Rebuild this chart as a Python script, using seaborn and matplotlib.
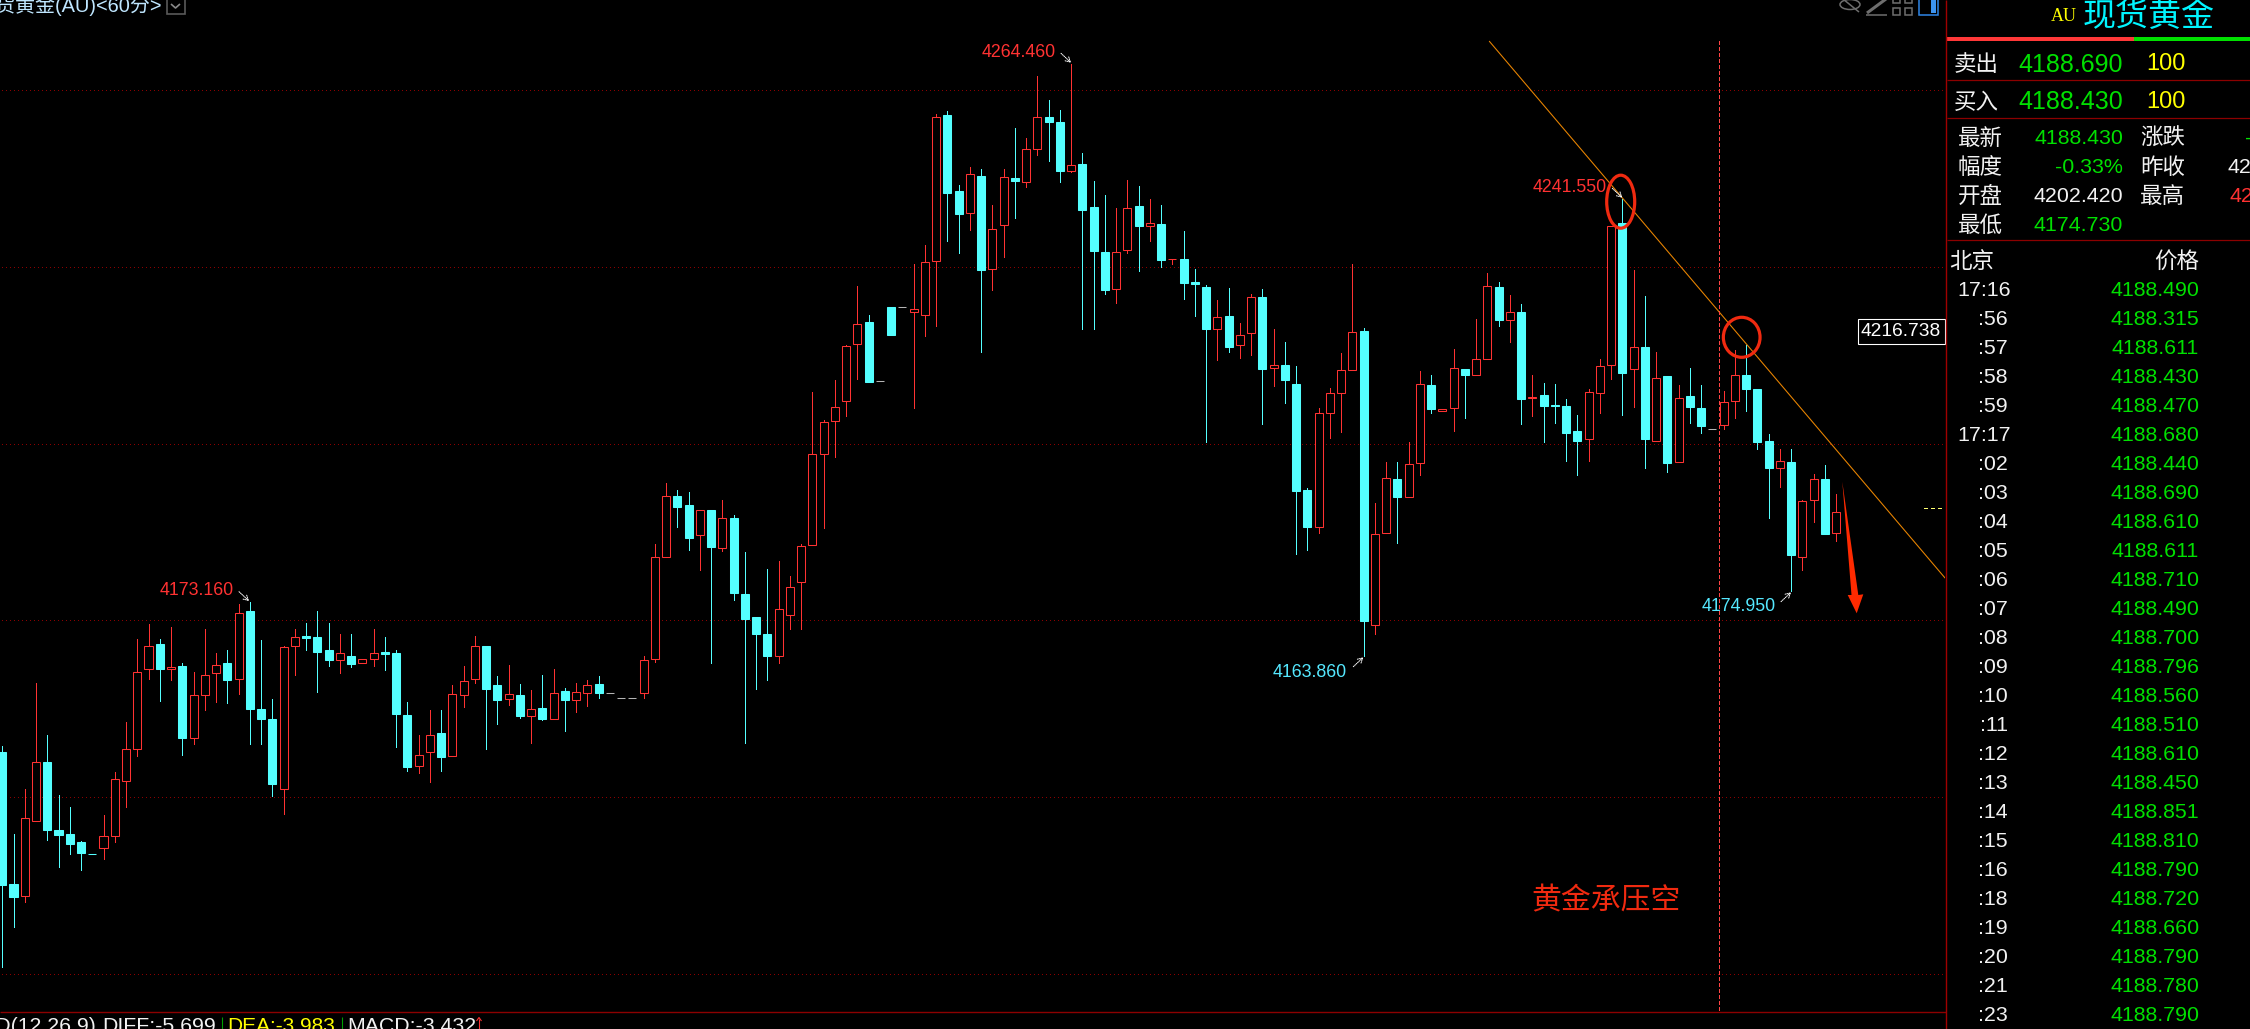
import numpy as np
import pandas as pd
import matplotlib
matplotlib.use("Agg")
import matplotlib.pyplot as plt
from matplotlib.patches import Ellipse, Polygon, Rectangle
import seaborn as sns

# ---------- candles (price units) ----------
opens = [4147.6,4125.3,4123.2,4136.0,4146.0,4134.4,4133.7,4132.3,4130.4,4131.4,4133.4,4142.8,4148.2,4161.8,4165.9,4161.8,4162.2,4150.1,4157.4,4161.0,
 4162.7,4160.0,4171.5,4155.0,4153.2,4141.3,4165.6,4167.4,4167.1,4164.9,4163.2,4163.9,4162.7,4163.5,4164.7,4164.5,4154.0,4145.2,4147.6,4150.8,
 4147.0,4157.4,4160.1,4165.6,4159.1,4156.6,4157.3,4153.7,4155.1,4153.2,4158.0,4156.4,4157.7,4159.2,4157.6,4156.9,4156.9,4157.7,4163.4,4180.7,
 4191.1,4189.5,4184.4,4188.7,4182.2,4187.3,4174.4,4170.5,4167.6,4163.9,4170.9,4176.5,4182.7,4198.2,4203.8,4207.2,4216.9,4220.6,4210.6,4223.1,
 4223.1,4222.3,4221.8,4231.0,4255.7,4242.8,4239.1,4245.4,4229.6,4237.1,4245.0,4244.4,4250.0,4255.4,4254.5,4246.3,4247.4,4240.1,4232.5,4226.2,
 4232.8,4240.3,4237.0,4237.2,4231.3,4231.4,4227.4,4226.6,4219.4,4221.6,4216.8,4218.7,4224.9,4212.9,4213.4,4210.1,4192.1,4185.8,4205.1,4208.5,
 4212.4,4219.1,4169.2,4184.8,4193.9,4190.9,4196.7,4209.9,4205.6,4206.0,4212.6,4211.6,4214.3,4226.5,4221.0,4222.4,4207.7,4208.2,4206.5,4206.3,
 4202.2,4200.7,4208.5,4213.4,4237.4,4212.6,4216.3,4200.5,4211.4,4196.8,4208.0,4206.1,4202.4,4203.1,4207.3,4211.6,4209.2,4200.5,4195.8,4196.8,
 4180.8,4190.5,4193.9,4184.8]
closes = [4125.0,4123.1,4136.4,4146.0,4134.4,4133.6,4132.1,4130.5,4130.3,4133.4,4143.0,4148.1,4161.3,4165.7,4161.8,4162.0,4150.1,4157.4,4160.8,4162.5,
 4159.9,4171.3,4155.0,4153.3,4142.3,4165.4,4167.1,4167.0,4164.7,4163.3,4164.5,4162.6,4163.5,4164.5,4164.3,4154.1,4145.1,4147.2,4150.6,4146.8,
 4157.5,4159.7,4165.7,4158.4,4156.5,4157.5,4153.8,4154.9,4153.3,4157.6,4156.4,4157.8,4159.0,4157.6,4157.6,4156.9,4156.9,4163.2,4180.7,4191.1,
 4189.3,4184.0,4188.7,4182.5,4187.3,4174.7,4170.3,4167.6,4164.0,4171.9,4175.6,4182.6,4198.2,4203.6,4206.2,4216.5,4220.3,4210.5,4210.6,4218.5,
 4223.1,4222.8,4230.8,4255.4,4242.6,4239.0,4245.7,4229.4,4236.4,4245.2,4244.5,4250.0,4255.4,4254.5,4246.3,4247.2,4239.7,4232.6,4226.0,4232.5,
 4239.9,4237.0,4237.4,4231.2,4231.4,4227.3,4227.0,4219.4,4221.4,4216.3,4218.5,4224.8,4212.7,4213.3,4210.7,4192.0,4185.9,4205.1,4208.5,4212.4,
 4218.9,4169.8,4184.6,4194.1,4191.0,4196.5,4210.1,4205.8,4205.9,4212.8,4211.7,4214.3,4226.7,4221.0,4222.3,4207.5,4207.9,4206.3,4206.3,4201.8,
 4200.5,4208.7,4213.1,4236.9,4212.0,4216.3,4200.8,4211.1,4196.7,4207.8,4206.2,4203.0,4202.4,4207.0,4211.6,4209.3,4200.3,4195.9,4197.0,4181.1,
 4190.2,4193.9,4184.7,4188.4]
highs = [4148.6,4133.8,4141.3,4159.4,4150.6,4140.3,4138.4,4132.5,4130.4,4136.9,4144.3,4152.8,4166.8,4169.3,4166.9,4168.8,4162.8,4161.3,4168.6,4164.5,
 4165.0,4172.7,4173.16,4166.6,4156.7,4165.7,4168.6,4169.6,4171.5,4169.6,4167.6,4167.6,4163.5,4168.6,4167.1,4164.9,4156.1,4150.6,4154.7,4154.7,
 4159.1,4162.2,4167.3,4165.7,4160.5,4162.4,4159.2,4158.2,4160.7,4161.7,4158.5,4159.3,4159.8,4160.5,4157.6,4156.9,4156.9,4163.9,4182.9,4193.3,
 4192.1,4191.7,4188.8,4188.8,4190.5,4187.8,4181.6,4170.5,4178.7,4180.0,4177.6,4182.9,4208.8,4204.0,4210.8,4216.8,4226.7,4221.8,4210.6,4223.1,
 4223.1,4230.4,4233.7,4255.9,4256.4,4243.8,4246.9,4246.6,4240.5,4246.6,4253.5,4251.8,4262.3,4258.3,4256.6,4264.46,4249.3,4244.5,4242.1,4239.9,
 4244.7,4243.7,4241.5,4240.5,4231.4,4236.0,4229.6,4226.9,4224.4,4226.4,4220.4,4225.3,4226.2,4219.4,4217.2,4213.1,4192.4,4206.0,4209.5,4215.3,
 4230.4,4219.6,4189.9,4196.8,4196.8,4200.2,4212.3,4211.7,4205.9,4216.0,4212.6,4221.1,4228.9,4227.4,4225.2,4223.6,4211.7,4210.2,4210.1,4207.5,
 4204.8,4209.2,4214.3,4236.9,4241.55,4229.4,4225.0,4215.5,4211.4,4209.9,4212.8,4210.0,4202.4,4208.9,4215.8,4216.8,4209.2,4201.6,4199.0,4199.0,
 4190.4,4194.9,4196.3,4191.4]
lows = [4111.2,4118.0,4122.2,4136.0,4132.7,4128.2,4130.4,4127.7,4130.3,4129.5,4132.4,4138.3,4147.0,4160.1,4156.3,4159.9,4147.2,4149.0,4154.8,4156.2,
 4156.0,4157.5,4149.0,4149.0,4140.2,4137.2,4160.7,4165.0,4157.9,4162.3,4161.1,4162.1,4162.7,4162.3,4161.6,4148.5,4144.5,4144.1,4142.6,4144.5,
 4147.0,4155.3,4159.4,4148.2,4152.4,4155.7,4153.5,4149.1,4153.0,4153.2,4151.3,4154.5,4155.5,4156.9,4157.6,4156.9,4156.9,4156.9,4163.0,4180.7,
 4185.9,4182.0,4178.6,4162.7,4181.7,4173.4,4149.1,4158.4,4159.8,4162.7,4168.6,4168.6,4182.7,4185.6,4197.8,4204.6,4210.9,4210.5,4210.6,4218.5,
 4223.1,4206.0,4218.2,4219.9,4234.3,4232.4,4236.3,4215.5,4226.1,4231.6,4238.2,4243.6,4248.9,4248.0,4244.3,4246.0,4219.4,4219.5,4225.3,4223.9,
 4232.4,4229.2,4234.3,4230.0,4230.4,4224.6,4221.6,4200.3,4214.2,4215.6,4214.6,4215.1,4203.4,4209.7,4206.9,4181.3,4182.0,4184.9,4201.0,4202.0,
 4212.4,4163.86,4167.6,4184.8,4183.2,4190.9,4194.7,4205.1,4205.6,4202.2,4204.4,4211.6,4214.3,4220.0,4217.3,4203.4,4204.7,4200.2,4203.5,4197.1,
 4194.6,4197.1,4205.1,4211.0,4204.9,4206.2,4195.9,4200.5,4195.1,4196.8,4203.5,4201.8,4202.4,4202.4,4204.4,4205.6,4199.0,4187.4,4192.7,4174.95,
 4178.6,4186.6,4184.7,4183.5]
grid_prices = [4260, 4230, 4200, 4170, 4140, 4110]

# ---------- right-hand quote panel ----------
tick_times = ["17:16",":56",":57",":58",":59","17:17",":02",":03",":04",":05",":06",":07",":08",
              ":09",":10",":11",":12",":13",":14",":15",":16",":18",":19",":20",":21",":23"]
tick_prices = ["4188.490","4188.315","4188.611","4188.430","4188.470","4188.680","4188.440","4188.690",
               "4188.610","4188.611","4188.710","4188.490","4188.700","4188.796","4188.560","4188.510",
               "4188.610","4188.450","4188.851","4188.810","4188.790","4188.720","4188.660","4188.790",
               "4188.780","4188.790"]

RED, CYAN, GRAY = "#FF3232", "#54FFFF", "#B4B4B4"
GREEN, YELLOW, WHITE = "#00E000", "#FFFF00", "#F2F2F2"
GRID = "#8C0000"
LATIN = ["Liberation Sans", "Noto Sans CJK SC", "DejaVu Sans"]
CJK = ["Noto Sans CJK SC", "DejaVu Sans"]

sns.set_theme(style="dark", rc={"figure.facecolor": "black", "axes.facecolor": "black",
                                "savefig.facecolor": "black", "axes.grid": False})
plt.rcParams["font.family"] = LATIN

n = len(opens)
idx = np.arange(n)
o, h, l, c = map(np.array, (opens, highs, lows, closes))
kind = np.where(c > o, "up", np.where(c < o, "down", "flat"))
wicks = pd.concat([pd.DataFrame({"i": idx, "price": h, "kind": kind}),
                   pd.DataFrame({"i": idx, "price": l, "kind": kind})])

fig = plt.figure(figsize=(22.5, 10.29), dpi=100)
W, H = 2250, 1029
AX_R, AX_B = 1945, 1012
ax = fig.add_axes([0, 1 - AX_B / H, AX_R / W, AX_B / H])
ax.set_facecolor("black")

for p in grid_prices:
    ax.plot([-0.05, 172.5], [p, p], color=GRID, lw=0.72, ls=(0, (1, 3)), antialiased=False, zorder=1)

sns.lineplot(data=wicks, x="i", y="price", hue="kind", units="i", estimator=None, legend=False,
             palette={"up": RED, "down": CYAN, "flat": GRAY}, lw=0.7, antialiased=False,
             solid_capstyle="butt", ax=ax, zorder=2)

colors = {"up": RED, "down": CYAN, "flat": GRAY}
bottoms = np.minimum(o, c)
heights = np.abs(c - o)
for k in colors:
    m = kind == k
    ax.bar(idx[m], heights[m], bottom=bottoms[m], width=0.72,
           facecolor="black" if k == "up" else colors[k], edgecolor=colors[k], linewidth=0.75, zorder=3)

ax.plot([132.18, 172.68], [4268.26, 4177.19], color="#E88400", lw=0.78, antialiased=True, zorder=4)

ax.set_xlim(-0.204, 172.68)
ax.set_ylim(4103.53, 4275.27)
ax.set_xticks([]); ax.set_yticks([])
ax.set_xlabel(""); ax.set_ylabel("")
for s in ax.spines.values():
    s.set_visible(False)

# ---------- pixel-space overlay ----------
ov = fig.add_axes([0, 0, 1, 1], zorder=5)
ov.set_xlim(0, W); ov.set_ylim(H, 0)
ov.axis("off"); ov.patch.set_alpha(0)


def T(x, y, s, color=WHITE, size=15.4, ha="left", va="center", fam=LATIN, **kw):
    dy = 1.5 if va == "center" else 0
    return ov.text(x, y + dy, s, color=color, fontsize=size, ha=ha, va=va, family=fam, **kw)


def L(xs, ys, color=GRID, lw=0.78, **kw):
    ov.plot(xs, ys, color=color, lw=lw, solid_capstyle="butt", **kw)


# vertical dashed marker
ov.plot([1719.3, 1719.3], [41, 1012], color="#FF4444", lw=0.78, ls=(0, (3.3, 2.4)), antialiased=False)

# extreme labels
labels = [("4264.460", 1055.7, 50.7, RED, (1061, 53.3), (1071, 62.7)),
          ("4173.160", 234, 588.7, RED, (239, 591.7), (249, 601)),
          ("4241.550", 1606.7, 185.7, RED, (1612.3, 188.3), (1622.3, 197.7)),
          ("4163.860", 1347, 670.7, "#55E8FF", (1353.3, 666.7), (1363.3, 657.3)),
          ("4174.950", 1775.7, 605.3, "#55E8FF", (1781, 601.7), (1791, 592.3))]
for s, x, y, col, a0, a1 in labels:
    T(x, y, s, color=col, size=12.8, ha="right")
    ov.annotate("", xy=a1, xytext=a0,
                arrowprops=dict(arrowstyle="->,head_length=0.28,head_width=0.16", color="white",
                                lw=0.7, ls=(0, (1, 1)), shrinkA=0, shrinkB=0))

# hand drawn marks
ov.add_patch(Ellipse((1620.7, 201.7), 28, 53, fill=False, ec="#F02A10", lw=2.3))
ov.add_patch(Ellipse((1741.7, 337.3), 36.7, 40, fill=False, ec="#F02A10", lw=2.3))
ov.add_patch(Polygon([(1842.3, 481.7), (1851.5, 595), (1847.7, 595), (1856.7, 613.3),
                      (1863.3, 594.3), (1858.3, 595)], closed=True, fc="#FF2A00", ec="none"))
T(1531, 899, "黄金承压空", color="#F02A10", size=21.5, fam=CJK)

# current-price box
ov.add_patch(Rectangle((1857.5, 318.5), 87, 25, fc="black", ec="white", lw=0.78))
T(1901, 330, "4216.738", size=13.8, ha="center", color="white")
ov.plot([1924, 1945], [508.3, 508.3], color="#FFFF70", lw=0.78, ls=(0, (3.5, 3.5)), antialiased=False)

# top-left title and button
T(162, 4, "现货黄金(AU)<60分>", color="#BFE6FF", size=14.4, ha="right")
ov.add_patch(Rectangle((166.5, -2), 18.5, 15.5, fc="black", ec="#5A5A5A", lw=1.2))
L([171, 175.5, 180], [4, 8, 4], color="#8A8A8A", lw=1.2)

# top-right icons
GI = "#6E6E6E"
ov.add_patch(Ellipse((1850, 4.5), 20, 10, fill=False, ec=GI, lw=1.1))
L([1843, 1859], [-1, 12], color=GI, lw=1.1)
L([1866, 1887], [14.5, 14.5], color=GI, lw=1.1)
L([1867, 1886], [13, -1], color=GI, lw=2.2)
for x0 in (1892.5, 1904.5):
    for y0 in (-5, 7.5):
        ov.add_patch(Rectangle((x0, y0), 7.5, 7.5, fill=False, ec=GI, lw=1.1))
ov.add_patch(Rectangle((1918.5, -3), 19, 18, fill=False, ec="#2E86E6", lw=1.1))
ov.add_patch(Rectangle((1931, -2), 5, 15, fc="#3C94F0", ec="none"))

# frame lines
L([0, 1946], [1012, 1012], color="#8C0000", lw=1.0)
L([1946, 1946], [0, H], color="#A00000", lw=1.0)
for y in (79.5, 117.5, 240):
    L([1947, W], [y, y], color="#8C0000", lw=0.9)
ov.add_patch(Rectangle((1947, 37), 187, 4, fc="#FF3838", ec="none"))
ov.add_patch(Rectangle((2134, 37), W - 2134, 4, fc=GREEN, ec="none"))

# bottom indicator line (cut by the frame edge)
BASE = 1032
T(96, BASE, "MACD(12,26,9)", size=15.3, ha="right", va="baseline")
T(102, BASE, "DIFF:-5.699", size=15.3, va="baseline")
T(227, BASE, "DEA:-3.983", size=15.0, color=YELLOW, va="baseline")
T(347, BASE, "MACD:-3.432", size=15.3, va="baseline")
L([221.7, 221.7], [1017, H], color="#00A000")
L([341.7, 341.7], [1017, H], color="#00A000")
L([479, 479], [1019, H], color=RED)
L([476.5, 479, 481.5], [1021, 1017.5, 1021], color=RED)

# quote panel
T(2051, 15, "AU", color=YELLOW, size=13, fam=["Liberation Serif"])
T(2083, 15, "现货黄金", color="#00F5FF", size=23.8, fam=CJK)
for y, lab, val in [(63, "卖出", "4188.690"), (100.5, "买入", "4188.430")]:
    T(1954, y, lab, size=16.2, fam=CJK)
    T(2123.3, y, val, color=GREEN, size=18, ha="right")
    T(2146, y, "100", color=YELLOW, size=17)

rows = [(137, "最新", "4188.430", GREEN, "涨跌", "-13.990", GREEN, 2245),
        (166, "幅度", "-0.33%", GREEN, "昨收", "4202.300", WHITE, 2227),
        (195, "开盘", "4202.420", WHITE, "最高", "4221.000", RED, 2229)]
for y, a, av, ac, b, bv, bc, bx in rows:
    T(1958, y, a, size=16.2, fam=CJK)
    T(2123.3, y, av, color=ac, ha="right")
    T(2140, y, b, size=16.2, fam=CJK)
    T(bx, y, bv, color=bc)
T(1958, 224, "最低", size=16.2, fam=CJK)
T(2123.3, 224, "4174.730", color=GREEN, ha="right")

T(1949, 260, "北京", size=16.2, fam=CJK)
T(2154, 260, "价格", size=16.2, fam=CJK)
for j, (tt, tp) in enumerate(zip(tick_times, tick_prices)):
    y = 289 + j * 29.0
    T(2011 if len(tt) > 3 else 2008, y, tt, ha="right")
    T(2154.7, y, tp, color=GREEN, ha="center")

fig.savefig("out.png", dpi=100, facecolor="black")
